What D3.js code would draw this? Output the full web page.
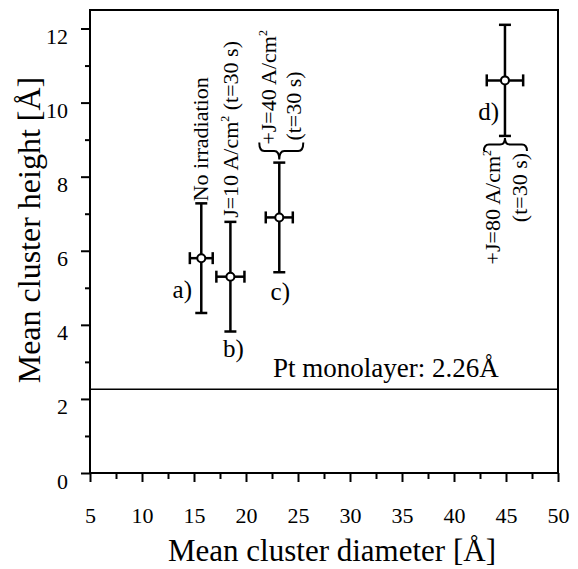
<!DOCTYPE html>
<html lang="en">
<head>
<meta charset="UTF-8">
<title>Cluster size</title>
<script src="https://d3js.org/d3.v7.min.js"></script>
<style>
  body { margin: 0; background: white; }
  svg text { font-family: "Liberation Serif", "Times New Roman", serif; fill: black; }
</style>
</head>
<body>
<div id="chart"></div>
<script>
// data
var labels = ["a)", "b)", "c)", "d)"];
var diameter = [15.7, 18.5, 23.2, 44.9];
var diameterErr = [1.1, 1.35, 1.3, 1.75];
var height = [5.8, 5.3, 6.9, 10.6];
var heightErr = [1.48, 1.48, 1.48, 1.5];
var xTicks = [5, 10, 15, 20, 25, 30, 35, 40, 45, 50];
var yTicks = [0, 2, 4, 6, 8, 10, 12];
var monolayer = 2.26;

var W = 578, H = 569;
var mLeft = 90, mRight = 558, mTop = 10, mBottom = 473;
var serif = '"Liberation Serif", "Times New Roman", serif';

var svg = d3.select("#chart").append("svg")
  .attr("width", W)
  .attr("height", H);

var x = d3.scaleLinear().domain([5, 50]).range([mLeft, mRight]);
var y = d3.scaleLinear().domain([0, 12.5]).range([mBottom, mTop]);

// frame
svg.append("rect")
  .attr("x", mLeft).attr("y", mTop)
  .attr("width", mRight - mLeft).attr("height", mBottom - mTop)
  .attr("fill", "none").attr("stroke", "black").attr("stroke-width", 2);

// x axis
var xAxis = svg.append("g").attr("transform", "translate(0," + mBottom + ")")
  .call(d3.axisBottom(x).tickValues(xTicks).tickSize(9).tickFormat(d3.format("d")));
xAxis.attr("font-family", serif);
xAxis.select(".domain").remove();
xAxis.selectAll("line").attr("stroke-width", 2);
xAxis.selectAll("text").attr("y", 50).attr("dy", 0)
  .style("font-family", serif).style("font-size", "22px");

var xMinor = svg.append("g").attr("transform", "translate(0," + mBottom + ")")
  .call(d3.axisBottom(x).tickValues(d3.range(7.5, 50, 5)).tickSize(6).tickFormat(""));
xMinor.select(".domain").remove();
xMinor.selectAll("line").attr("stroke-width", 2);

// y axis
var yAxis = svg.append("g").attr("transform", "translate(" + mLeft + ",0)")
  .call(d3.axisLeft(y).tickValues(yTicks).tickSize(9).tickPadding(13));
yAxis.attr("font-family", serif);
yAxis.select(".domain").remove();
yAxis.selectAll("line").attr("stroke-width", 2);
yAxis.selectAll("text").attr("dy", 15)
  .style("font-family", serif).style("font-size", "22px");

var yMinor = svg.append("g").attr("transform", "translate(" + mLeft + ",0)")
  .call(d3.axisLeft(y).tickValues([1, 3, 5, 7, 9, 11]).tickSize(5).tickFormat(""));
yMinor.select(".domain").remove();
yMinor.selectAll("line").attr("stroke-width", 2);

// axis titles
svg.append("text")
  .attr("x", 332).attr("y", 561)
  .attr("text-anchor", "middle")
  .style("font-size", "31px")
  .text("Mean cluster diameter [Å]");

svg.append("text")
  .attr("transform", "translate(40,230) rotate(-90)")
  .attr("text-anchor", "middle")
  .style("font-size", "32px")
  .text("Mean cluster height [Å]");

// monolayer line
svg.append("line")
  .attr("x1", mLeft).attr("x2", mRight)
  .attr("y1", y(monolayer)).attr("y2", y(monolayer))
  .attr("stroke", "black").attr("stroke-width", 1.5);
svg.append("text")
  .attr("x", 273).attr("y", y(monolayer) - 12)
  .style("font-size", "27px")
  .text("Pt monolayer: 2.26Å");

// error bars + points
var pts = diameter.map(function(d, i) {
  return { x: d, dx: diameterErr[i], y: height[i], dy: heightErr[i], label: labels[i] };
});

var g = svg.selectAll(".pt").data(pts).enter().append("g").attr("class", "pt");
var cap = 6;
g.append("line")
  .attr("x1", function(d) { return x(d.x); }).attr("x2", function(d) { return x(d.x); })
  .attr("y1", function(d) { return y(d.y - d.dy); }).attr("y2", function(d) { return y(d.y + d.dy); });
g.append("line")
  .attr("x1", function(d) { return x(d.x) - cap; }).attr("x2", function(d) { return x(d.x) + cap; })
  .attr("y1", function(d) { return y(d.y - d.dy); }).attr("y2", function(d) { return y(d.y - d.dy); });
g.append("line")
  .attr("x1", function(d) { return x(d.x) - cap; }).attr("x2", function(d) { return x(d.x) + cap; })
  .attr("y1", function(d) { return y(d.y + d.dy); }).attr("y2", function(d) { return y(d.y + d.dy); });
g.append("line")
  .attr("x1", function(d) { return x(d.x - d.dx); }).attr("x2", function(d) { return x(d.x + d.dx); })
  .attr("y1", function(d) { return y(d.y); }).attr("y2", function(d) { return y(d.y); });
g.append("line")
  .attr("x1", function(d) { return x(d.x - d.dx); }).attr("x2", function(d) { return x(d.x - d.dx); })
  .attr("y1", function(d) { return y(d.y) - cap; }).attr("y2", function(d) { return y(d.y) + cap; });
g.append("line")
  .attr("x1", function(d) { return x(d.x + d.dx); }).attr("x2", function(d) { return x(d.x + d.dx); })
  .attr("y1", function(d) { return y(d.y) - cap; }).attr("y2", function(d) { return y(d.y) + cap; });
g.selectAll("line").attr("stroke", "black").attr("stroke-width", 2.5);
g.append("circle")
  .attr("cx", function(d) { return x(d.x); })
  .attr("cy", function(d) { return y(d.y); })
  .attr("r", 4)
  .attr("fill", "white").attr("stroke", "black").attr("stroke-width", 2);

// point letters
var letterPos = [
  { dx: -19, yv: function(d) { return y(d.y) + 40; }, anchor: "middle" },
  { dx: 3, yv: function(d) { return y(d.y - d.dy) + 25; }, anchor: "middle" },
  { dx: 1, yv: function(d) { return y(d.y - d.dy) + 28; }, anchor: "middle" },
  { dx: -6, yv: function(d) { return y(d.y) + 40; }, anchor: "end" }
];
pts.forEach(function(d, i) {
  svg.append("text")
    .attr("x", x(d.x) + letterPos[i].dx)
    .attr("y", letterPos[i].yv(d))
    .attr("text-anchor", letterPos[i].anchor)
    .style("font-size", "25px")
    .text(d.label);
});

// rotated condition notes
function vtext(px, py, anchor, parts) {
  var t = svg.append("text")
    .attr("transform", "translate(" + px + "," + py + ") rotate(-90)")
    .attr("text-anchor", anchor)
    .style("font-size", "22px");
  parts.forEach(function(p, i) {
    if (p.sup) {
      t.append("tspan").attr("dy", -9).style("font-size", "12px").text(p.s);
      t.append("tspan").attr("dy", 9).text(i < parts.length - 1 ? "\u00a0" : "");
    } else {
      t.append("tspan").text(p.s);
    }
  });
}

function brace(x1, x2, xm, y0, hgt) {
  var ym = y0 + hgt / 2, ye = y0 + hgt, q = 5;
  return "M" + x1 + "," + y0 +
    " Q" + x1 + "," + ym + " " + (x1 + q) + "," + ym +
    " L" + (xm - q) + "," + ym +
    " Q" + xm + "," + ym + " " + xm + "," + ye +
    " Q" + xm + "," + ym + " " + (xm + q) + "," + ym +
    " L" + (x2 - q) + "," + ym +
    " Q" + x2 + "," + ym + " " + x2 + "," + y0;
}

var pa = pts[0], pb = pts[1], pc = pts[2], pd = pts[3];
vtext(x(pa.x) + 7, y(pa.y + pa.dy) - 2, "start", [{ s: "No irradiation" }]);
vtext(x(pb.x) + 8, y(pb.y + pb.dy) - 4, "start",
  [{ s: "J=10 A/cm" }, { s: "2", sup: true }, { s: "(t=30 s)" }]);

vtext(x(pc.x) - 3, y(pc.y + pc.dy) - 18, "start",
  [{ s: "+J=40 A/cm" }, { s: "2", sup: true }]);
vtext(x(pc.x) + 22, y(pc.y + pc.dy) - 22, "start", [{ s: "(t=30 s)" }]);
svg.append("path")
  .attr("d", brace(x(pc.x) - 20, x(pc.x) + 24, x(pc.x), y(pc.y + pc.dy) - 20, 17))
  .attr("fill", "none").attr("stroke", "black").attr("stroke-width", 2);

vtext(x(pd.x) - 5, y(pd.y - pd.dy) + 14, "end",
  [{ s: "+J=80 A/cm" }, { s: "2", sup: true }]);
vtext(x(pd.x) + 22, y(pd.y - pd.dy) + 17, "end", [{ s: "(t=30 s)" }]);
svg.append("path")
  .attr("d", brace(x(pd.x) - 21, x(pd.x) + 22, x(pd.x), y(pd.y - pd.dy) + 15, -13))
  .attr("fill", "none").attr("stroke", "black").attr("stroke-width", 2);
</script>
</body>
</html>
